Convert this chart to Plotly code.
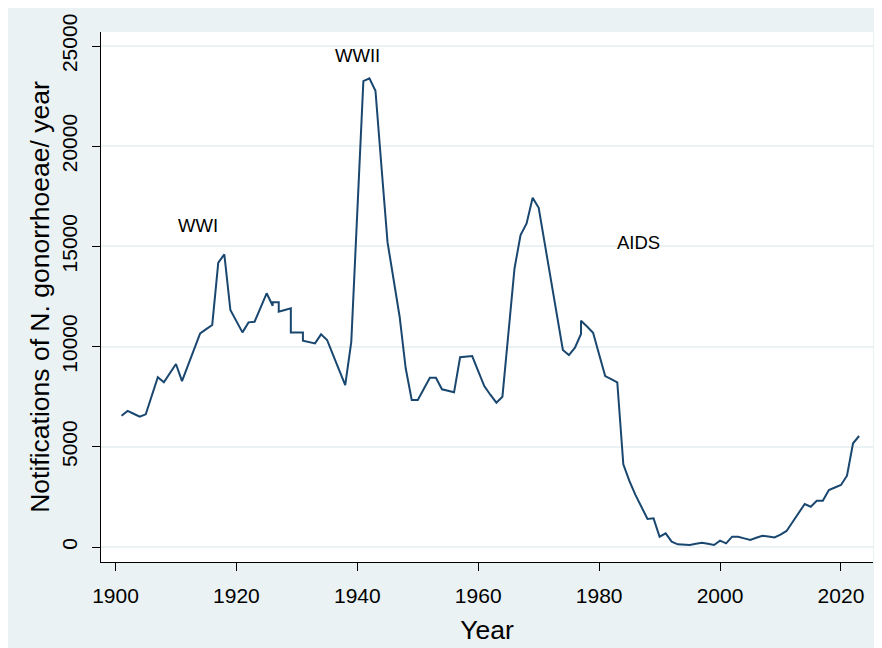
import plotly.graph_objects as go

years = [1901, 1902, 1903, 1904, 1905, 1906, 1907, 1908, 1909, 1910,
         1911, 1912, 1913, 1914, 1915, 1916, 1917, 1918, 1919, 1920,
         1921, 1922, 1923, 1924, 1925, 1926, 1926, 1927, 1927, 1928,
         1929, 1929, 1930, 1931, 1931, 1932, 1933, 1934, 1935, 1936,
         1937, 1938, 1939, 1940, 1941, 1942, 1943, 1944, 1945, 1946,
         1947, 1948, 1949, 1950, 1951, 1952, 1953, 1954, 1955, 1956,
         1957, 1958, 1959, 1960, 1961, 1962, 1963, 1964, 1965, 1966,
         1967, 1968, 1969, 1970, 1971, 1972, 1973, 1974, 1975, 1976,
         1977, 1977, 1978, 1979, 1980, 1981, 1982, 1983, 1984, 1985,
         1986, 1987, 1988, 1989, 1990, 1991, 1992, 1993, 1994, 1995,
         1996, 1997, 1998, 1999, 2000, 2001, 2002, 2003, 2004, 2005,
         2006, 2007, 2008, 2009, 2010, 2011, 2012, 2013, 2014, 2015,
         2016, 2017, 2018, 2019, 2020, 2021, 2022, 2023]

notifications = [6550, 6790, 6650, 6500, 6620, 7540, 8470, 8220, 8680, 9130,
                 8280, 9070, 9870, 10660, 10870, 11080, 14190, 14600, 11830, 11270,
                 10710, 11210, 11240, 11950, 12660, 12040, 12210, 12210, 11740, 11830,
                 11910, 10710, 10710, 10710, 10300, 10230, 10160, 10610, 10330, 9580,
                 8830, 8080, 10240, 16800, 23250, 23390, 22770, 18950, 15200, 13350,
                 11490, 8920, 7340, 7340, 7900, 8450, 8450, 7870, 7800, 7720,
                 9470, 9500, 9530, 8780, 8030, 7600, 7200, 7500, 10700, 13900,
                 15570, 16150, 17430, 16930, 15150, 13380, 11600, 9830, 9580, 9950,
                 10630, 11290, 11000, 10690, 9610, 8530, 8380, 8220, 4130, 3300,
                 2600, 2000, 1400, 1430, 515, 680, 265, 135, 110, 100,
                 160, 215, 160, 100, 315, 180, 515, 515, 430, 350,
                 460, 565, 520, 480, 620, 800, 1250, 1700, 2145, 2010,
                 2310, 2310, 2845, 2970, 3095, 3560, 5175, 5540]

x_ticks = [1900, 1920, 1940, 1960, 1980, 2000, 2020]
y_ticks = [0, 5000, 10000, 15000, 20000, 25000]
y_tick_text = ["0", "5000", "10000", "15000", "20000", "25000"]

event_labels = ["WWI", "WWII", "AIDS"]
event_x = [1913.6, 1940.0, 1986.5]
event_y = [16050, 24550, 15200]

FONT = "Liberation Sans, Arial, Helvetica, sans-serif"
BG = "#EAF2F3"
NAVY = "#1A476F"

fig = go.Figure()
fig.add_trace(go.Scatter(x=years, y=notifications, mode="lines",
                         line=dict(color=NAVY, width=2), showlegend=False,
                         hoverinfo="x+y"))

for t, xv, yv in zip(event_labels, event_x, event_y):
    fig.add_annotation(x=xv, y=yv, text=t, showarrow=False,
                       font=dict(family=FONT, size=18.5, color="black"),
                       xanchor="center", yanchor="middle")

fig.update_layout(
    width=882, height=648,
    margin=dict(l=93, r=17, t=24, b=94, autoexpand=False),
    paper_bgcolor=BG, plot_bgcolor="white",
    font=dict(family=FONT, color="black"),
    xaxis=dict(range=[1897.6, 2025.3], tickvals=x_ticks,
               ticktext=[str(v) for v in x_ticks],
               showgrid=False, zeroline=False, automargin=False,
               showline=True, linecolor="black", linewidth=1,
               ticks="outside", ticklen=8, tickcolor="black", tickwidth=1,
               ticklabelstandoff=7,
               tickfont=dict(family=FONT, size=21, color="black"),
               title=dict(text="Year", font=dict(family=FONT, size=26.5, color="black"),
                          standoff=14)),
    yaxis=dict(range=[-748, 25699], tickvals=y_ticks, ticktext=y_tick_text,
               tickangle=-90, automargin=False,
               showgrid=True, gridcolor=BG, gridwidth=1.5,
               zeroline=True, zerolinecolor=BG, zerolinewidth=1.5,
               showline=True, linecolor="black", linewidth=1,
               ticks="outside", ticklen=8, tickcolor="black", tickwidth=1,
               ticklabelstandoff=7,
               tickfont=dict(family=FONT, size=21, color="black"),
               title=dict(text="Notifications of N. gonorrhoeae/ year",
                          font=dict(family=FONT, size=26.5, color="black"),
                          standoff=0)),
)

fig.write_html("out.html")
